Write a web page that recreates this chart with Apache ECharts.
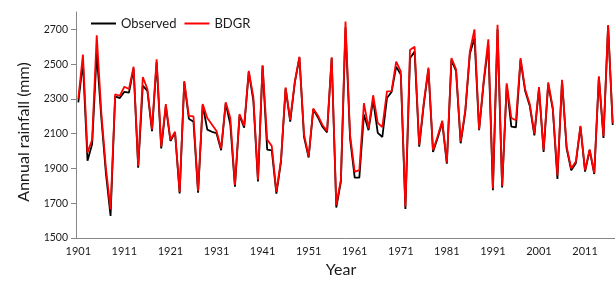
<!DOCTYPE html>
<html>
<head>
<meta charset="utf-8">
<script src="https://cdn.jsdelivr.net/npm/echarts@6/dist/echarts.min.js"></script>
<style>
html,body{margin:0;padding:0;background:#fff;}
#chart{width:615px;height:283px;}
</style>
</head>
<body>
<div id="chart"></div>
<script>
// Years 1901..2017 (the last one falls just past the right edge of the picture)
const firstYear = 1901;
const lastYear = 2017;
const years = [];
for (let y = firstYear; y <= lastYear; y++) years.push(String(y));

const observed = [
  2280, 2510, 1945, 2040, 2565, 2190, 1870, 1627, 2315, 2305,
  2341, 2336, 2475, 1905, 2376, 2346, 2115, 2510, 2015, 2257,
  2058, 2105, 1756, 2395, 2186, 2169, 1761, 2265, 2123, 2111,
  2103, 2005, 2275, 2153, 1795, 2205, 2135, 2455, 2290, 1825,
  2490, 2009, 2004, 1755, 1940, 2360, 2170, 2395, 2538, 2080,
  1963, 2240, 2195, 2140, 2108, 2535, 1675, 1825, 2710, 2070,
  1847, 1847, 2210, 2120, 2295, 2105, 2081, 2305, 2340, 2486,
  2440, 1667, 2534, 2572, 2025, 2270, 2470, 1995, 2075, 2165,
  1928, 2525, 2460, 2045, 2225, 2560, 2650, 2120, 2395, 2610,
  1775, 2700, 1790, 2380, 2141, 2137, 2525, 2345, 2260, 2090,
  2360, 1995, 2385, 2240, 1840, 2405, 2015, 1890, 1930, 2140,
  1882, 2005, 1868, 2425, 2075, 2720, 2150
];

const bdgr = [
  2300, 2555, 1990, 2065, 2666, 2220, 1900, 1665, 2327, 2318,
  2370, 2357, 2485, 1915, 2426, 2357, 2125, 2528, 2025, 2270,
  2065, 2111, 1765, 2403, 2203, 2200, 1770, 2270, 2190, 2153,
  2115, 2015, 2281, 2190, 1805, 2213, 2145, 2461, 2310, 1835,
  2494, 2066, 2029, 1765, 1950, 2366, 2180, 2399, 2543, 2095,
  1970, 2245, 2205, 2150, 2115, 2539, 1690, 1835, 2745, 2090,
  1880, 1890, 2276, 2130, 2321, 2162, 2138, 2343, 2345, 2515,
  2458, 1680, 2581, 2601, 2035, 2280, 2480, 2005, 2085, 2175,
  1935, 2535, 2470, 2055, 2235, 2575, 2700, 2125, 2405, 2643,
  1785, 2726, 1800, 2390, 2190, 2177, 2535, 2355, 2270, 2100,
  2368, 2005, 2395, 2250, 1860, 2410, 2025, 1900, 1940, 2145,
  1890, 2010, 1875, 2430, 2085, 2725, 2160
];

const yTicks = [1500, 1700, 1900, 2100, 2300, 2500, 2700];
const seriesNames = ['Observed', 'BDGR'];

const chart = echarts.init(document.getElementById('chart'), null, {renderer: 'canvas'});
const axisGrey = '#878787';
const textCol = '#1a1a1a';
const font = 'Lato, "Open Sans", sans-serif';

chart.setOption({
  animation: false,
  backgroundColor: '#ffffff',
  grid: {left: 76, right: -4, top: 12, bottom: 44, containLabel: false},
  legend: {
    data: seriesNames,
    left: 86,
    top: 12,
    itemWidth: 25,
    itemHeight: 2,
    itemGap: 8,
    icon: 'rect',
    textStyle: {fontFamily: font, fontSize: 13, color: textCol}
  },
  xAxis: {
    type: 'category',
    data: years,
    boundaryGap: true,
    name: 'Year',
    nameLocation: 'middle',
    nameGap: 24,
    nameTextStyle: {fontFamily: font, fontSize: 16, color: textCol, padding: [0, 9, 0, 0]},
    axisLine: {lineStyle: {color: axisGrey, width: 1}},
    axisTick: {interval: 9, length: 5, lineStyle: {color: axisGrey}},
    axisLabel: {interval: 9, margin: 8, fontFamily: font, fontSize: 11, color: textCol},
    splitLine: {show: false}
  },
  yAxis: {
    type: 'value',
    min: 1500,
    max: 2800,
    interval: 200,
    name: 'Annual rainfall (mm)',
    nameLocation: 'middle',
    nameGap: 44,
    nameTextStyle: {fontFamily: font, fontSize: 16, color: textCol, padding: [0, 14, 0, 0]},
    axisLine: {show: true, lineStyle: {color: axisGrey, width: 1}},
    axisTick: {show: true, length: 5, lineStyle: {color: axisGrey}, customValues: yTicks},
    axisLabel: {
      margin: 8, fontFamily: font, fontSize: 10.5, color: textCol,
      customValues: yTicks,
      formatter: function (v) { return String(v); }
    },
    splitLine: {show: false}
  },
  series: [
    {
      name: seriesNames[0],
      type: 'line',
      data: observed,
      symbol: 'none',
      color: '#000000',
      lineStyle: {color: '#000000', width: 1.8},
      z: 2
    },
    {
      name: seriesNames[1],
      type: 'line',
      data: bdgr,
      symbol: 'none',
      color: '#ff0000',
      lineStyle: {color: '#ff0000', width: 1.8},
      z: 3
    }
  ]
});
</script>
</body>
</html>
